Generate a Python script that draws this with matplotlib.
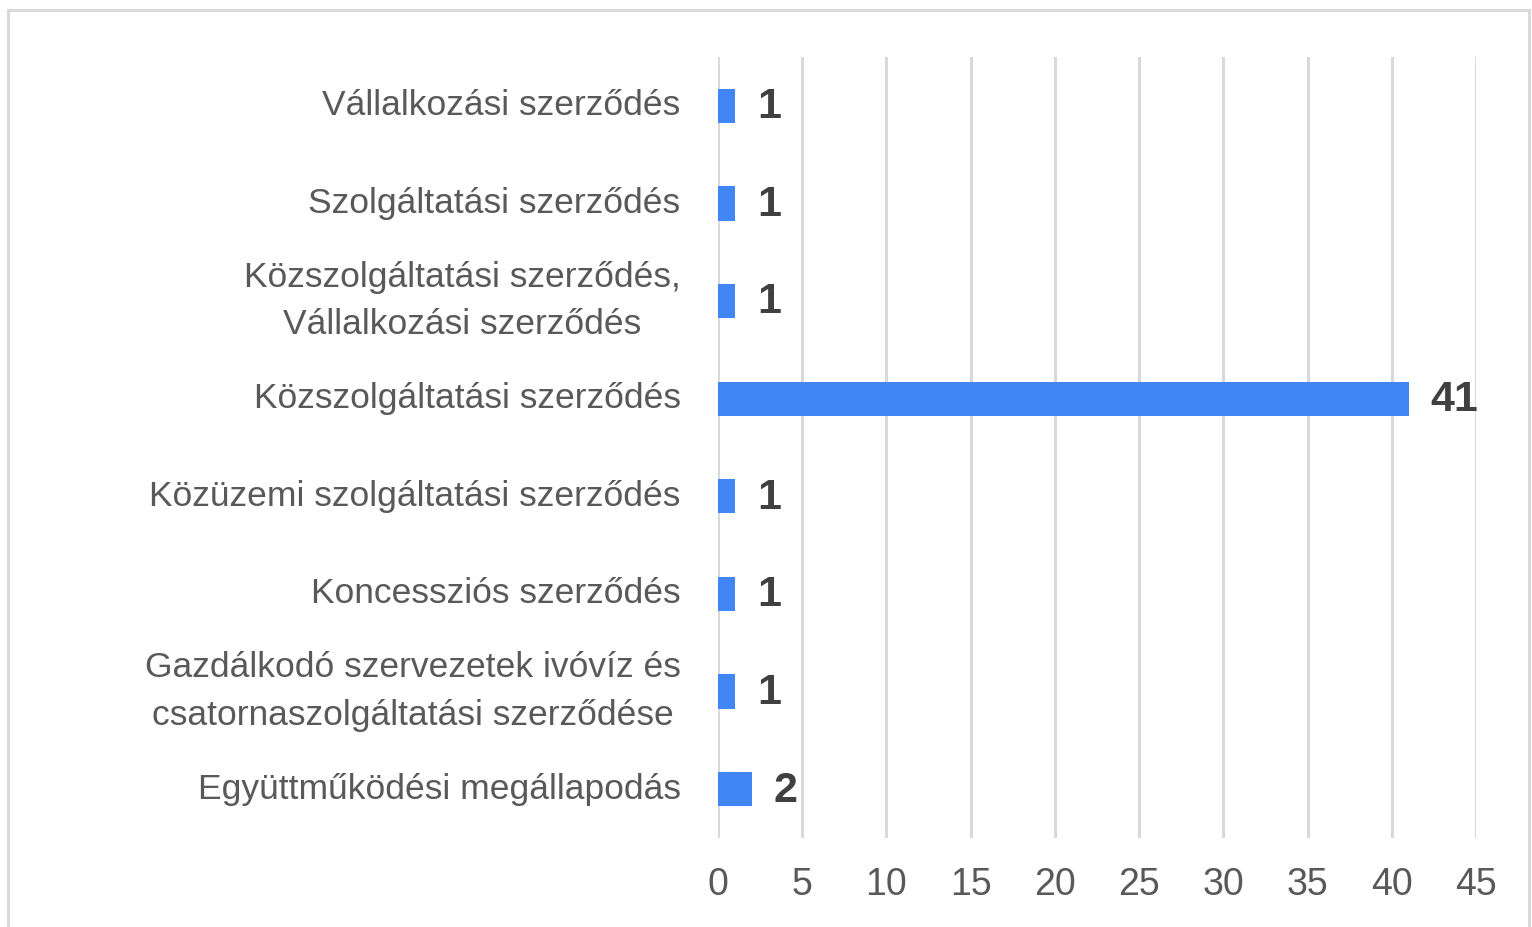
"""
Szerződéstípusok megoszlása - vízszintes oszlopdiagram
"""

import matplotlib.pyplot as plt
from matplotlib.patches import Rectangle

plt.rcParams['font.family'] = ['Liberation Sans', 'DejaVu Sans']

# felülről lefelé
categories = [
    'Vállalkozási szerződés',
    'Szolgáltatási szerződés',
    'Közszolgáltatási szerződés,\nVállalkozási szerződés',
    'Közszolgáltatási szerződés',
    'Közüzemi szolgáltatási szerződés',
    'Koncessziós szerződés',
    'Gazdálkodó szervezetek ivóvíz és\ncsatornaszolgáltatási szerződése',
    'Együttműködési megállapodás',
]
counts = [1, 1, 1, 41, 1, 1, 1, 2]
x_ticks = [0, 5, 10, 15, 20, 25, 30, 35, 40, 45]

fig = plt.figure(figsize=(15.32, 9.27), dpi=100)
ax = fig.add_axes([0.4687, 0.096, 0.4947, 0.8425])

pos = list(range(len(categories)))
ax.barh(pos, counts, height=0.35, color='#4285F4', zorder=3)
ax.set_ylim(len(categories) - 0.5, -0.5)
ax.set_xlim(0, 45)

for y, v in zip(pos, counts):
    ax.annotate(str(v), (v, y), xytext=(16, -1), textcoords='offset points',
                ha='left', va='center', fontsize=31, fontweight='bold',
                color='#404040')

ax.set_yticks(pos)
ax.set_yticklabels(categories, fontsize=25.5, color='#595959',
                   multialignment='center', linespacing=1.55)
for lbl in ax.get_yticklabels():
    lbl.set_va('center')
ax.set_xticks(x_ticks)
ax.set_xticklabels([str(t) for t in x_ticks], fontsize=27, color='#595959')
ax.tick_params(axis='both', length=0)
ax.tick_params(axis='y', pad=27)
ax.tick_params(axis='x', pad=21)

ax.grid(axis='x', color='#d9d9d9', linewidth=2.2, zorder=0)
ax.grid(axis='y', visible=False)
for s in ax.spines.values():
    s.set_visible(False)

# ramka a wykres körül
fig.patches.append(Rectangle((8 / 1532, -0.05), 1521 / 1532, 1 - 10 / 927 + 0.05,
                             transform=fig.transFigure, fill=False,
                             edgecolor='#d9d9d9', linewidth=2.2))

plt.savefig('out.png', dpi=100)
plt.close()
